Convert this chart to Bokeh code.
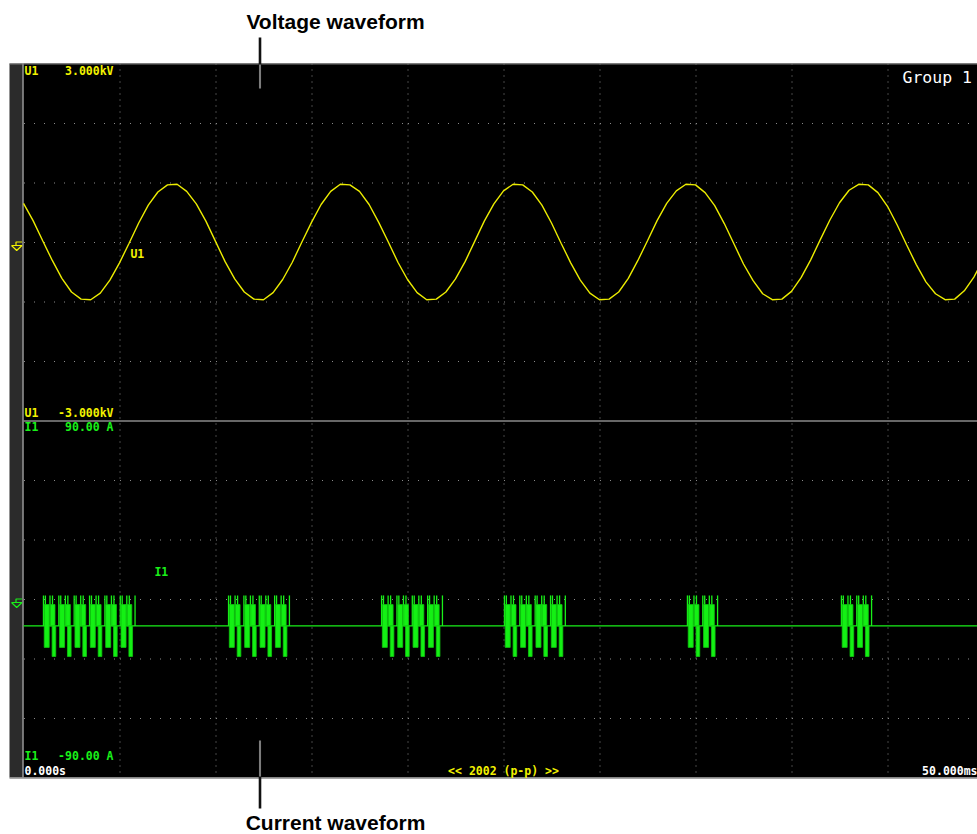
import numpy as np
from bokeh.plotting import figure
from bokeh.models import Range1d
from bokeh.core.properties import value
from bokeh.embed import file_html
from bokeh.resources import INLINE

time_span_ms = 50.0          # 10 divisions, 5 ms/div
volt_fullscale_kv = 3.0      # U1 scale +-3.000 kV
amp_fullscale = 90.0         # I1 scale +-90.00 A

# Voltage waveform U1 (kV), sampled every 0.5 ms from 0 to 50 ms
volt_t_ms = [k * 0.5 for k in range(101)]
volt_kv = [0.65, 0.36, 0.02, -0.31, -0.61, -0.84, -0.96, -0.97, -0.86, -0.64,
           -0.35, -0.02, 0.32, 0.62, 0.84, 0.96, 0.97, 0.85, 0.64, 0.35,
           0.01, -0.33, -0.62, -0.84, -0.96, -0.97, -0.85, -0.63, -0.34, 0.00,
           0.33, 0.63, 0.85, 0.97, 0.96, 0.85, 0.63, 0.33, 0.00, -0.34,
           -0.63, -0.85, -0.97, -0.96, -0.84, -0.62, -0.33, 0.01, 0.35, 0.64,
           0.86, 0.97, 0.96, 0.84, 0.62, 0.32, -0.02, -0.35, -0.64, -0.86,
           -0.97, -0.96, -0.84, -0.61, -0.31, 0.02, 0.36, 0.65, 0.86, 0.97,
           0.96, 0.83, 0.61, 0.31, -0.03, -0.37, -0.65, -0.87, -0.97, -0.96,
           -0.83, -0.60, -0.30, 0.04, 0.37, 0.66, 0.87, 0.97, 0.96, 0.83,
           0.60, 0.29, -0.05, -0.38, -0.67, -0.87, -0.97, -0.96, -0.82, -0.59,
           -0.29]

# Current waveform I1 (A): flat level with switching bursts
cur_base_a = -13.6
cur_top_a = 1.8
burst_start_ms = [1.04, 10.68, 18.65, 25.05, 34.58, 42.60]
burst_cycles = [6, 4, 4, 4, 2, 2]
cycle_ms = 0.80
# shape of one switching cycle (offsets in ms inside a cycle)
spike_off_ms = [0.00, 0.10, 0.34, 0.47]
blk_off_start_ms = [0.04, 0.36, 0.45]
blk_off_end_ms = [0.30, 0.60, 0.64]
blk_top_a = [-2.8, -2.8, -13.6]
blk_bot_a = [-24.4, -13.6, -29.0]

# screen texts
u_scale_labels = ["3.000kV", "-3.000kV"]
i_scale_labels = ["90.00 A", "-90.00 A"]
time_labels = ["0.000s", "50.000ms"]
status_label = "<< 2002 (p-p) >>"
group_label = "Group  1"
trace_names = ["U1", "I1"]
callouts = ["Voltage waveform", "Current waveform"]

# ---------------- layout (picture pixels) ----------------
X0, Y0 = 0, 0
W, H = 977, 834
scr_l, scr_r = 23, 983
scr_t, scr_m, scr_b = 63, 420, 777
px_per_ms = (scr_r - scr_l) / time_span_ms
div_w = (scr_r - scr_l) / 10
div_h = (scr_m - scr_t) / 6
zero_u = (scr_t + scr_m) / 2
zero_i = (scr_m + scr_b) / 2
kv_per_px = 2 * volt_fullscale_kv / (scr_m - scr_t)
a_per_px = 2 * amp_fullscale / (scr_b - scr_m)

YEL = "#f2f200"
GRN = "#19f019"
MONO = value("DejaVu Sans Mono")

p = figure(width=W, height=H, x_range=Range1d(X0, X0 + W), y_range=Range1d(Y0 + H, Y0),
           output_backend="svg", toolbar_location=None, min_border=0,
           x_axis_type=None, y_axis_type=None, outline_line_color=None,
           background_fill_color="white", border_fill_color="white")
p.grid.visible = False
p.extra_x_ranges = {"time": Range1d((X0 - scr_l) / px_per_ms, (X0 + W - scr_l) / px_per_ms)}
p.extra_y_ranges = {
    "volt": Range1d((zero_u - (Y0 + H)) * kv_per_px, (zero_u - Y0) * kv_per_px),
    "amp": Range1d((zero_i - (Y0 + H)) * a_per_px, (zero_i - Y0) * a_per_px),
}

# screen frame
p.quad(left=[9], right=[scr_l - 1], top=[scr_t], bottom=[scr_b], fill_color="#2b2b2b", line_color=None)
p.quad(left=[scr_l], right=[scr_r], top=[scr_t], bottom=[scr_b], fill_color="black", line_color=None)
p.segment(x0=[scr_l - 0.5], y0=[scr_t], x1=[scr_l - 0.5], y1=[scr_b], line_color="#6a6a6a", line_width=1.2)
p.segment(x0=[9, scr_l, 9], y0=[scr_t + 0.5, scr_m + 0.5, scr_b + 0.5],
          x1=[scr_r, scr_r, scr_r], y1=[scr_t + 0.5, scr_m + 0.5, scr_b + 0.5],
          line_color=["#7a7a7a", "#8a8a8a", "#8a8a8a"], line_width=[1, 1.6, 1.6])

# dotted grid
gx = [scr_l + div_w * k + 0.5 for k in range(1, 10)]
p.segment(x0=gx, y0=[scr_t] * 9, x1=gx, y1=[scr_b] * 9, line_color="#8a8a8a",
          line_width=1, line_dash="1 5")
hy = [scr_t + div_h * k + 0.5 for k in range(1, 6)] + [scr_m + div_h * k + 0.5 for k in range(1, 6)]
hx0, hx1, hyy = [], [], []
for yv in hy:
    for d in range(10):
        hx0.append(scr_l + div_w * d + 0.5)
        hx1.append(scr_l + div_w * (d + 1))
        hyy.append(yv)
p.segment(x0=hx0, y0=hyy, x1=hx1, y1=hyy, line_color="#8a8a8a", line_width=1, line_dash="1 9")

# ground markers
for zy, col in [(zero_u, YEL), (zero_i, GRN)]:
    p.multi_line(xs=[[21.5, 15.5, 15.5], [11, 21.5, 16.2, 11]],
                 ys=[[zy, zy, zy + 3.5], [zy + 3.5, zy + 3.5, zy + 8.5, zy + 3.5]],
                 line_color=col, line_width=1.2)

# voltage waveform
p.line(volt_t_ms, volt_kv, x_range_name="time", y_range_name="volt", line_color="#ecec00", line_width=1.4)

# current waveform
p.line([0, time_span_ms], [cur_base_a, cur_base_a], x_range_name="time", y_range_name="amp",
       line_color=GRN, line_width=1.2)
sx, bl, br, bt, bb = [], [], [], [], []
for s, n in zip(burst_start_ms, burst_cycles):
    for c in range(n):
        c0 = s + c * cycle_ms
        for o in spike_off_ms:
            sx.append(c0 + o)
        for a, b, t, bo in zip(blk_off_start_ms, blk_off_end_ms, blk_top_a, blk_bot_a):
            bl.append(c0 + a); br.append(c0 + b); bt.append(t); bb.append(bo)
    sx.append(s + n * cycle_ms - 0.03)
p.segment(x0=sx, y0=[cur_base_a] * len(sx), x1=sx, y1=[cur_top_a] * len(sx),
          x_range_name="time", y_range_name="amp", line_color=GRN, line_width=1.3)
p.quad(left=bl, right=br, top=bt, bottom=bb, x_range_name="time", y_range_name="amp",
       fill_color="#14f014", line_color="#0fc80f", line_width=0.8)

# trace labels near waveforms
p.text(x=[5.57], y=[-0.21], text=[trace_names[0]], x_range_name="time", y_range_name="volt",
       text_color=YEL, text_font=MONO, text_font_style="bold", text_font_size="11.5px",
       text_baseline="middle", text_align="left")
p.text(x=[6.82], y=[13.4], text=[trace_names[1]], x_range_name="time", y_range_name="amp",
       text_color=GRN, text_font=MONO, text_font_style="bold", text_font_size="11.5px",
       text_baseline="middle", text_align="left")

# screen texts
def t(x, y, s, col, align="left", size="11.5px", style="bold"):
    p.text(x=[x], y=[y], text=[s], text_color=col, text_font=MONO, text_font_style=style,
           text_font_size=size, text_baseline="middle", text_align=align)

t(24, 70, trace_names[0], YEL); t(113, 70, u_scale_labels[0], YEL, "right")
t(24, 412.5, trace_names[0], YEL); t(113, 412.5, u_scale_labels[1], YEL, "right")
t(24, 426.5, trace_names[1], GRN); t(113, 426.5, i_scale_labels[0], GRN, "right")
t(24, 755.5, trace_names[1], GRN); t(113, 755.5, i_scale_labels[1], GRN, "right")
t(24, 770, time_labels[0], "white")
t(977, 770, time_labels[1], "white", "right")
t(503, 770, status_label, YEL, "center")
t(902, 77, group_label, "white", "left", "16.5px", "normal")

# callouts
for y0c, y1c in [(37, 88), (740, 808)]:
    p.segment(x0=[259.5], y0=[y0c], x1=[259.5], y1=[y1c], line_color="#111111", line_width=2.6)
    yi0, yi1 = max(y0c, scr_t + 1), min(y1c, scr_b - 1)
    p.segment(x0=[259.5], y0=[yi0], x1=[259.5], y1=[yi1], line_color="#e8e8e8", line_width=1)
p.text(x=[335], y=[20.5], text=[callouts[0]], text_color="black", text_font=value("Liberation Sans"),
       text_font_style="bold", text_font_size="21px", text_align="center", text_baseline="middle")
p.text(x=[335], y=[822], text=[callouts[1]], text_color="black", text_font=value("Liberation Sans"),
       text_font_style="bold", text_font_size="21px", text_align="center", text_baseline="middle")

open("out.html", "w").write(file_html(p, INLINE))
